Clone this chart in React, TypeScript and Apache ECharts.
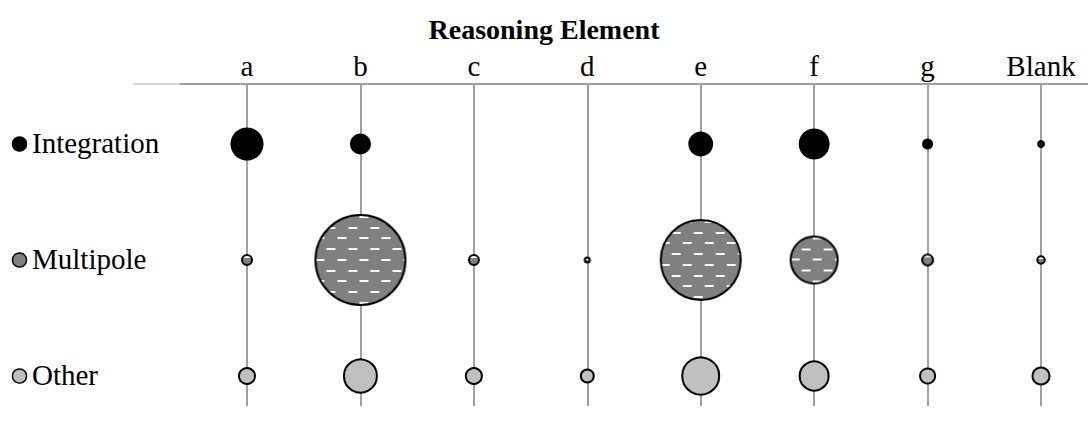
import React, { useEffect, useRef } from "react";
import * as echarts from "echarts";

const categories = ["a", "b", "c", "d", "e", "f", "g", "Blank"];
const rowNames = ["Integration", "Multipole", "Other"];
const integrationValues = [10.9, 4.4, 0, 0, 6.2, 9.6, 1.2, 0.64];
const multipoleValues = [1.44, 84.6, 1.44, 0.5, 67.2, 24.0, 1.69, 0.9];
const otherValues = [3.24, 12.25, 3.24, 2.25, 15.2, 9.6, 2.9, 3.6];

const FONT = "Liberation Serif";
const rowColors = ["#000000", "#808080", "#c0c0c0"];
const BORDER = 2;

const diameter = (v: number) => 10 * Math.sqrt(v);

function patternBubble(v: number) {
  const d = Math.max(diameter(v), 4);
  const size = Math.ceil(d) + 2;
  const c = document.createElement("canvas");
  c.width = size;
  c.height = size;
  const ctx = c.getContext("2d")!;
  const cx = size / 2;
  const r = d / 2 - BORDER / 2;
  ctx.save();
  ctx.beginPath();
  ctx.arc(cx, cx, r, 0, Math.PI * 2);
  ctx.fillStyle = "#808080";
  ctx.fill();
  ctx.clip();
  ctx.fillStyle = "#fafafa";
  for (let row = 0; row * 11 < size + 11; row++) {
    const y = row * 10.7 + 3;
    const off = row % 2 === 0 ? 2 : 13;
    for (let x = off - 22; x < size + 22; x += 22) {
      ctx.fillRect(x, Math.round(y), 9, 2);
    }
  }
  ctx.restore();
  ctx.beginPath();
  ctx.arc(cx, cx, r, 0, Math.PI * 2);
  ctx.lineWidth = BORDER;
  ctx.strokeStyle = "#000";
  ctx.stroke();
  return { url: "image://" + c.toDataURL(), size };
}

function toData(values: number[], row: number) {
  const out: any[] = [];
  values.forEach((v, i) => {
    if (v > 0) out.push([i, row, v]);
  });
  return out;
}

export default function App() {
  const ref = useRef<HTMLDivElement>(null);
  useEffect(() => {
    if (!ref.current) return;
    const chart = echarts.init(ref.current, null, { renderer: "svg" });
    const sizeFn = (bw: number) => (val: number[]) => Math.max(diameter(val[2]) - bw, 2);
    const multipoleData = toData(multipoleValues, 1).map((d) => {
      const b = patternBubble(d[2]);
      return { value: d, symbol: b.url, symbolSize: b.size };
    });
    chart.setOption({
      animation: false,
      textStyle: { fontFamily: FONT },
      title: {
        text: "Reasoning Element",
        left: "center",
        top: 10,
        textStyle: { fontFamily: FONT, fontSize: 28, fontWeight: "bold", color: "#000" },
      },
      grid: { left: 247, right: 47, top: 84, bottom: 28 },
      xAxis: {
        type: "category",
        position: "top",
        boundaryGap: false,
        data: categories,
        axisLine: { show: false },
        axisTick: { show: false },
        axisLabel: { fontFamily: FONT, fontSize: 29, color: "#000", margin: 4 },
        splitLine: { show: true, lineStyle: { color: "#a0a0a0", width: 2 } },
      },
      yAxis: {
        type: "value",
        min: -0.2586,
        max: 2.517,
        show: false,
        splitLine: { show: false },
      },
      series: [
        {
          name: rowNames[0],
          type: "scatter",
          data: toData(integrationValues, 2),
          symbol: "circle",
          symbolSize: sizeFn(0),
          itemStyle: { color: rowColors[0], opacity: 1 },
        },
        {
          name: rowNames[1],
          type: "scatter",
          data: multipoleData,
          itemStyle: { color: rowColors[1], opacity: 1 },
        },
        {
          name: rowNames[2],
          type: "scatter",
          data: toData(otherValues, 0),
          symbol: "circle",
          symbolSize: sizeFn(BORDER),
          itemStyle: { color: rowColors[2], borderColor: "#000", borderWidth: BORDER, opacity: 1 },
        },
      ],
    });
    const rowY = [2, 1, 0].map((r) => chart.convertToPixel({ yAxisIndex: 0 } as any, r) as number);
    const legendEls: any[] = [
      { type: "line", shape: { x1: 133, y1: 84, x2: 180, y2: 84 }, style: { stroke: "#b0b0b0", lineWidth: 1 } },
      { type: "line", shape: { x1: 180, y1: 84, x2: 1088, y2: 84 }, style: { stroke: "#a0a0a0", lineWidth: 2 } },
    ];
    rowNames.forEach((name, i) => {
      legendEls.push({
        type: "circle",
        shape: { cx: 19.5, cy: rowY[i], r: 7 },
        style: { fill: rowColors[i], stroke: "#000", lineWidth: 1.5 },
      });
      legendEls.push({
        type: "text",
        x: 32,
        y: rowY[i] - 1,
        style: {
          text: name,
          font: "29px 'Liberation Serif'",
          fill: "#000",
          verticalAlign: "middle",
          align: "left",
        },
      });
    });
    chart.setOption({ graphic: legendEls });
    return () => chart.dispose();
  }, []);
  return (
    <div
      ref={ref}
      style={{ position: "fixed", left: 0, top: 0, width: 1088, height: 434, background: "#fff" }}
    />
  );
}
